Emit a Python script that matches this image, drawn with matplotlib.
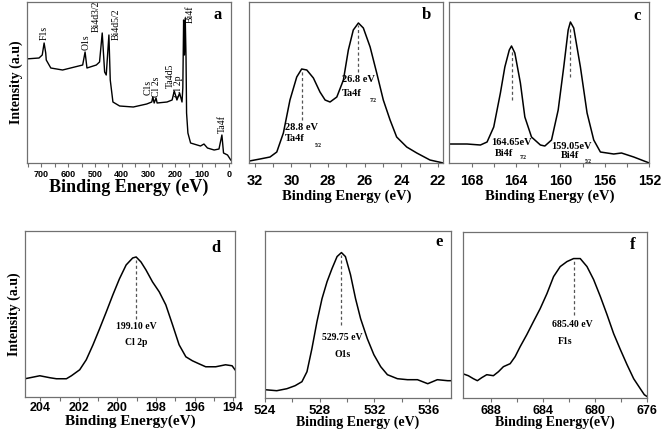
import matplotlib
matplotlib.use("Agg")
import matplotlib.pyplot as plt
import numpy as np

SERIF = "Liberation Serif"
SANS = "Liberation Sans"

# (a) survey spectrum, binding energy (eV) vs intensity (arb.)
survey_e = [760, 709, 697, 690, 684, 682, 665, 621, 546, 537, 530, 495, 483, 473, 464,
            458, 448, 443, 433, 408, 357, 307, 288, 284, 279, 272, 268, 231, 212, 204,
            194, 184, 175, 172, 169, 166, 163, 160, 158, 153, 143, 106, 93, 80, 55, 37,
            26, 20, 5, -7]
survey_i = [104, 105, 108, 120, 110, 103, 95, 93, 98, 111, 95, 98, 101, 130, 91,
            88, 128, 83, 61, 57, 56, 59, 61, 66, 60, 65, 60, 61, 63, 72,
            63, 70, 61, 75, 143, 108, 145, 105, 50, 30, 20, 17, 19, 15, 13, 14,
            28, 10, 8, 3]
survey_labels = ["F1s", "O1s", "Bi4d3/2", "Bi4d5/2", "C1s", "Cl 2s", "Ta4d5", "Cl 2p", "Ta4f"]
survey_label_e = [690, 533, 495, 420, 302, 272, 219, 189, 24]
survey_label_i = [123, 113, 131, 123, 68, 66, 75, 66, 30]

# (b) Ta4f
ta_e = [32.3, 31.72, 31.17, 30.80, 30.44, 30.08, 29.71, 29.44, 29.16, 28.80, 28.44, 28.16,
        27.89, 27.52, 27.16, 26.89, 26.62, 26.34, 26.07, 25.70, 25.34, 24.98, 24.61, 24.25,
        23.70, 23.15, 22.43, 21.70]
ta_i = [2, 4, 6, 11, 30, 63, 86, 94, 93, 85, 71, 63,
        61, 66, 83, 113, 133, 140, 135, 116, 90, 63, 43, 26,
        16, 10, 3, 0]

# (c) Bi4f
bi_e = [170.0, 168.4, 167.2, 166.6, 166.0, 165.4, 165.0, 164.6, 164.4, 164.1, 163.6, 163.2,
        162.6, 161.8, 161.4, 160.8, 160.2, 159.7, 159.3, 159.1, 158.8, 158.2, 157.6, 157.0,
        156.4, 155.2, 154.5, 153.4, 152.0]
bi_i = [19, 19, 18, 21, 36, 70, 96, 113, 117, 110, 80, 46,
        26, 18, 17, 23, 53, 96, 133, 141, 135, 96, 50, 23,
        11, 9, 10, 6, 0]

# (d) Cl 2p
cl_e = [204.8, 204.03, 203.5, 203.17, 202.65, 202.39, 201.96, 201.62, 201.27, 200.93, 200.58,
        200.24, 199.9, 199.55, 199.21, 199.03, 198.78, 198.52, 198.18, 197.83, 197.49, 197.14,
        196.8, 196.45, 196.11, 195.77, 195.42, 194.9, 194.39, 194.05, 193.9]
cl_i = [18, 21, 19, 18, 18, 21, 27, 37, 52, 68, 85,
        102, 118, 132, 139, 140, 135, 127, 115, 105, 92, 72,
        52, 40, 36, 33, 30, 30, 32, 31, 27]

# (e) O1s
o_e = [524.0, 524.86, 525.6, 526.2, 526.7, 527.07, 527.43, 527.8, 528.17, 528.54, 528.9,
       529.27, 529.59, 529.88, 530.25, 530.62, 530.99, 531.48, 531.96, 532.46, 532.95,
       533.68, 534.42, 535.15, 535.9, 536.6, 537.36, 537.6]
o_i = [8, 7, 9, 12, 16, 26, 49, 76, 99, 116, 129,
       141, 145, 141, 123, 99, 79, 59, 43, 31, 23,
       19, 18, 18, 14, 18, 17, 17]

# (f) F1s
f_e = [690.2, 689.77, 689.38, 689.07, 688.74, 688.35, 687.84, 687.45, 687.07, 686.55, 686.17,
       685.78, 685.27, 684.76, 684.24, 683.72, 683.21, 682.7, 682.18, 681.67, 681.16, 680.64,
       680.13, 679.61, 679.1, 678.59, 678.07, 677.56, 677.05, 676.54, 676.23, 676.0]
f_i = [24, 22, 19, 17, 20, 23, 22, 26, 31, 34, 41,
       51, 63, 76, 89, 104, 121, 131, 136, 139, 139, 131,
       118, 101, 83, 64, 48, 33, 19, 9, 3, 1]

FRAME = "#707070"


def style_axes(ax, xlim, ylim, major, tick_size, xlabel, xlabel_size, letter, letter_pos,
               labelpad=1, tickpad=2):
    ax.set_xlim(*xlim)
    ax.set_ylim(*ylim)
    ax.set_yticks([])
    ax.set_xticks(major)
    mids = [(a + b) / 2 for a, b in zip(major[:-1], major[1:])]
    ax.set_xticks(mids, minor=True)
    ax.tick_params(axis="x", which="both", direction="out", length=3, width=0.8,
                   color=FRAME, pad=tickpad)
    for lab in ax.get_xticklabels():
        lab.set_fontfamily(SANS)
        lab.set_fontweight("bold")
        lab.set_fontsize(tick_size)
    for sp in ax.spines.values():
        sp.set_color(FRAME)
        sp.set_linewidth(0.9)
    ax.set_xlabel(xlabel, fontfamily=SERIF, fontweight="bold", fontsize=xlabel_size,
                  labelpad=labelpad)
    ax.text(letter_pos[0], letter_pos[1], letter, transform=ax.transAxes, fontfamily=SERIF,
            fontweight="bold", fontsize=12, ha="center", va="center")


def peak_note(ax, e, top, bottom, value, value_xy, name, name_xy, sub=None, sub_xy=None,
              size=7.5, ha="center", name_ha=None):
    ax.plot([e, e], [bottom, top], ls=(0, (2.5, 2)), color="#555555", lw=0.9)
    ax.text(value_xy[0], value_xy[1], value, fontfamily=SERIF, fontweight="bold",
            fontsize=size, ha=ha, va="center")
    ax.text(name_xy[0], name_xy[1], name, fontfamily=SERIF, fontweight="bold",
            fontsize=size, ha=name_ha or ha, va="center")
    if sub:
        ax.text(sub_xy[0], sub_xy[1], sub, fontfamily=SERIF, fontweight="bold",
                fontsize=4, ha="left", va="center")


fig = plt.figure(figsize=(6.61, 4.34), dpi=100)

# (a)
ax = fig.add_axes([0.0404, 0.6244, 0.3091, 0.371])
ax.plot(survey_e, survey_i, color="black", lw=1.0)
style_axes(ax, (755, -8), (0, 161), list(range(700, -1, -100)), 6.5,
           "Binding Energy (eV)", 13, "a", (0.935, 0.92), labelpad=0)
ax.set_xticks(list(range(750, -1, -100)), minor=True)
ax.set_ylabel("Intensity (a.u)", fontfamily=SERIF, fontweight="bold", fontsize=10, labelpad=3)
for name, e, i in zip(survey_labels, survey_label_e, survey_label_i):
    ax.text(e, i, name, rotation=90, fontfamily=SERIF, fontsize=7, ha="center", va="bottom")
ax.text(143, 158, "Bi4f", rotation=90, fontfamily=SERIF, fontsize=7, ha="center", va="top")

# (b)
ax = fig.add_axes([0.3772, 0.6244, 0.2935, 0.371])
ax.plot(ta_e, ta_i, color="black", lw=1.1)
style_axes(ax, (32.3, 21.7), (0, 161), [32, 30, 28, 26, 24, 22], 10.5,
           "Binding Energy (eV)", 10.5, "b", (0.914, 0.92), labelpad=1, tickpad=5)
peak_note(ax, 29.4, 93, 43, "28.8 eV", (30.35, 36), "Ta4f", (30.35, 25), "5/2", (28.7, 18),
          size=7.5, ha="left")
peak_note(ax, 26.34, 138, 91, "26.8 eV", (27.25, 84), "Ta4f", (27.25, 70), "7/2", (25.75, 63),
          size=7.5, ha="left")

# (c)
ax = fig.add_axes([0.6797, 0.6244, 0.3026, 0.371])
ax.plot(bi_e, bi_i, color="black", lw=1.1)
style_axes(ax, (170, 152), (0, 161), [168, 164, 160, 156, 152], 10,
           "Binding Energy (eV)", 10.5, "c", (0.937, 0.91), labelpad=1, tickpad=5)
peak_note(ax, 164.4, 113, 63, "164.65eV", (164.4, 21), "Bi4f", (165.9, 10), "7/2", (163.7, 6),
          size=7.5, name_ha="left")
peak_note(ax, 159.1, 136, 86, "159.05eV", (159.0, 17), "Bi4f", (160.0, 8), "5/2", (157.8, 2),
          size=7.5, name_ha="left")

# (d)
ax = fig.add_axes([0.0378, 0.0859, 0.3177, 0.3818])
ax.plot(cl_e, cl_i, color="black", lw=1.1)
style_axes(ax, (204.8, 193.9), (0, 166), [204, 202, 200, 198, 196, 194], 9,
           "Binding Energy(eV)", 11, "d", (0.907, 0.896), labelpad=0, tickpad=1)
ax.set_ylabel("Intensity (a.u)", fontfamily=SERIF, fontweight="bold", fontsize=10, labelpad=3)
peak_note(ax, 199.03, 137, 78, "199.10 eV", (199.03, 70), "Cl 2p", (199.03, 54), size=7)

# (e)
ax = fig.add_axes([0.4009, 0.0836, 0.2814, 0.3852])
ax.plot(o_e, o_i, color="black", lw=1.1)
style_axes(ax, (524, 537.6), (0, 167), [524, 528, 532, 536], 9.5,
           "Binding Energy (eV)", 10, "e", (0.937, 0.93), labelpad=-1)
peak_note(ax, 529.59, 143, 73, "529.75 eV", (529.64, 60), "O1s", (529.64, 43), size=7)

# (f)
ax = fig.add_axes([0.7, 0.0836, 0.2793, 0.3829])
ax.plot(f_e, f_i, color="black", lw=1.1)
style_axes(ax, (690.2, 676), (0, 166), [688, 684, 680, 676], 9,
           "Binding Energy(eV)", 10, "f", (0.92, 0.916), labelpad=-1)
peak_note(ax, 681.62, 138, 83, "685.40 eV", (681.8, 73), "F1s", (682.3, 56), size=7)

fig.savefig("out.png", dpi=100)
